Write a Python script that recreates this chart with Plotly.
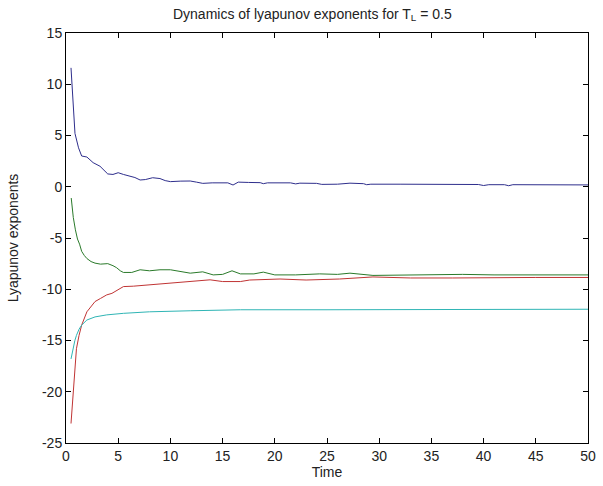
import plotly.graph_objects as go

# ---- data ----
t_blue = [0.48, 0.6, 0.86, 1.2, 1.5, 2.0, 2.6, 3.26, 3.7, 4.0, 4.5, 5.0, 5.5, 6.1, 6.6, 7.1, 7.6, 8.3, 9.0, 9.5,
          10.0, 11.0, 11.9, 12.5, 13.1, 14.0, 14.75, 15.5, 16.0, 16.5, 17.5, 18.6, 18.9, 19.3, 21.5, 22.0, 22.4,
          24.0, 24.5, 26.0, 27.2, 28.5, 28.8, 29.2, 32, 35, 38, 39.5, 40.0, 40.5, 42.0, 42.4, 42.8, 45, 48, 50]
v_blue = [11.6, 9.5, 5.2, 3.8, 3.0, 2.9, 2.35, 2.0, 1.6, 1.25, 1.2, 1.37, 1.2, 1.05, 0.9, 0.66, 0.7, 0.88, 0.8, 0.6,
          0.5, 0.55, 0.56, 0.45, 0.33, 0.38, 0.4, 0.38, 0.17, 0.45, 0.42, 0.4, 0.3, 0.38, 0.38, 0.28, 0.35,
          0.33, 0.23, 0.25, 0.35, 0.3, 0.2, 0.25, 0.25, 0.22, 0.2, 0.22, 0.12, 0.2, 0.2, 0.1, 0.2, 0.2, 0.18, 0.18]

t_green = [0.5, 0.7, 0.9, 1.1, 1.3, 1.5, 1.75, 2.0, 2.4, 2.78, 3.3, 4.0, 4.5, 4.85, 5.2, 5.5, 6.3, 7.1, 8.0, 9.0,
           10.0, 11.0, 11.9, 13.1, 14.1, 15.0, 15.9, 16.7, 18.0, 18.9, 20.0, 22, 24.3, 26, 27.2, 29.4, 32, 35, 38,
           41, 44, 47, 50]
v_green = [-1.1, -3.0, -4.2, -5.1, -5.6, -6.3, -6.7, -7.0, -7.3, -7.45, -7.55, -7.5, -7.7, -7.9, -8.2, -8.36, -8.36,
           -8.1, -8.2, -8.1, -8.1, -8.3, -8.43, -8.3, -8.6, -8.55, -8.2, -8.5, -8.5, -8.33, -8.6, -8.6, -8.5, -8.55,
           -8.43, -8.65, -8.6, -8.6, -8.55, -8.6, -8.6, -8.6, -8.6]

t_red = [0.48, 0.6, 0.7, 0.85, 1.0, 1.25, 1.5, 2.0, 2.78, 3.3, 3.9, 4.4, 4.85, 5.5, 6.45, 8.0, 10.0, 11.9, 13.8,
         15.0, 16.7, 17.6, 20.5, 23.0, 26.2, 29.4, 33, 37, 41, 45, 50]
v_red = [-23.1, -21.5, -19.7, -17.5, -15.8, -14.5, -13.5, -12.2, -11.2, -10.9, -10.55, -10.4, -10.16, -9.74, -9.7,
         -9.57, -9.4, -9.25, -9.08, -9.25, -9.25, -9.1, -9.0, -9.1, -9.0, -8.8, -8.9, -8.9, -8.85, -8.85, -8.85]

t_cyan = [0.48, 0.6, 0.7, 0.85, 1.0, 1.25, 1.5, 2.0, 2.78, 3.9, 5.5, 8.0, 11.9, 16.7, 25, 35, 45, 49, 50]
v_cyan = [-16.8, -16.1, -15.5, -15.0, -14.5, -13.9, -13.5, -13.0, -12.7, -12.5, -12.35, -12.2, -12.1, -12.0, -12.0,
          -12.0, -12.0, -12.0, -11.95]

x_ticks = [0, 5, 10, 15, 20, 25, 30, 35, 40, 45, 50]
y_ticks = [15, 10, 5, 0, -5, -10, -15, -20, -25]
y_ticklabels = ["15", "10", "5", "0", "-5", "-10", "-15", "-20", "-25"]

series = [
    (t_blue, v_blue, "#2e2e8c"),
    (t_green, v_green, "#2a7a2a"),
    (t_red, v_red, "#c03434"),
    (t_cyan, v_cyan, "#2fb5b5"),
]

fig = go.Figure()
for t, v, c in series:
    fig.add_trace(go.Scatter(x=t, y=v, mode="lines", line=dict(color=c, width=1), showlegend=False))

FAM = "Liberation Sans, Arial, sans-serif"
font = dict(family=FAM, size=14, color="#222222")
axis_common = dict(showline=True, linecolor="black", linewidth=1, mirror="ticks", ticks="inside",
                   ticklen=5, tickcolor="black", showgrid=False, zeroline=False, tickfont=font,
                   automargin=False)

fig.update_layout(
    width=603, height=486,
    margin=dict(l=66, r=15, t=33, b=43),
    paper_bgcolor="white", plot_bgcolor="white",
    title=dict(text="Dynamics of lyapunov exponents for T<sub>L</sub> = 0.5", x=0.518, xanchor="center",
               y=0.972, yanchor="middle", font=dict(family=FAM, size=14, color="#222222")),
    xaxis=dict(range=[0, 50], tickvals=x_ticks, title=dict(text="Time", font=font, standoff=4), **axis_common),
    yaxis=dict(range=[-25, 15], tickvals=y_ticks, ticktext=y_ticklabels,
               title=dict(text="Lyapunov exponents", font=font, standoff=20), **axis_common),
)

fig.write_html("out.html")
